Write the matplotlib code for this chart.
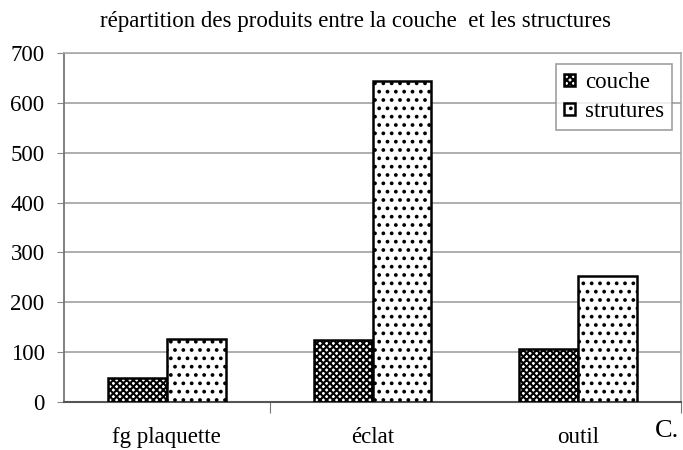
import matplotlib
matplotlib.use("Agg")
import matplotlib.pyplot as plt
import numpy as np

categories = ["fg plaquette", "éclat", "outil"]
couche = [48, 124, 106]
structures = [126, 644, 252]
series_labels = ["couche", "strutures"]
title = "répartition des produits entre la couche  et les structures"
yticks = [0, 100, 200, 300, 400, 500, 600, 700]

plt.rcParams['font.family'] = ['Liberation Serif', 'DejaVu Serif']
plt.rcParams['hatch.linewidth'] = 1.5

fig = plt.figure(figsize=(6.83, 4.5), dpi=100)
L, R, T, B = 64, 681, 53, 402
ax = fig.add_axes([L/683, (450-B)/450, (R-L)/683, (B-T)/450])

x = np.arange(len(categories))
w = 0.286
ax.bar(x - w/2, couche, w, facecolor='white', edgecolor='black', hatch='xxxxx', linewidth=1.8, label=series_labels[0], zorder=3)
ax.bar(x + w/2, structures, w, facecolor='white', edgecolor='black', hatch='..', linewidth=1.8, label=series_labels[1], zorder=3)

ax.set_xlim(-0.5, 2.5)
ax.set_ylim(0, 700)
ax.set_yticks(yticks)
ax.yaxis.grid(True, color='#999999', linewidth=1.1)
ax.set_axisbelow(True)
ax.set_xticks([0.5, 2.5])
ax.set_xticklabels([])
ax.set_xticks(x, minor=True)
ax.set_xticklabels(categories, minor=True, fontsize=16.5)
ax.tick_params(axis='x', which='minor', length=0, pad=18)
ax.tick_params(axis='x', which='major', length=8, color='#777777', direction='out')
ax.tick_params(axis='y', length=5, color='#888888', labelsize=16.5, pad=9)

for s in ['top', 'right']:
    ax.spines[s].set_color('#aaaaaa')
    ax.spines[s].set_linewidth(1.2)
ax.spines['left'].set_color('#777777')
ax.spines['left'].set_linewidth(1.3)
ax.spines['bottom'].set_color('#555555')
ax.spines['bottom'].set_linewidth(1.5)

fig.text(355/683, 1 - 22/450, title, ha='center', va='center', fontsize=16.5)
fig.text(667/683, 1 - 431/450, "C.", ha='center', va='center', fontsize=19)

leg = ax.legend(loc='upper right', bbox_to_anchor=((672-L)/(R-L), (B-64)/(B-T)),
                borderaxespad=0, fontsize=16.5,
                frameon=True, fancybox=False, edgecolor='#888888',
                handlelength=0.45, handleheight=0.45, handletextpad=0.45,
                borderpad=0.35, labelspacing=0.35)
leg.get_frame().set_linewidth(1.2)

fig.savefig("out.png", dpi=100)
